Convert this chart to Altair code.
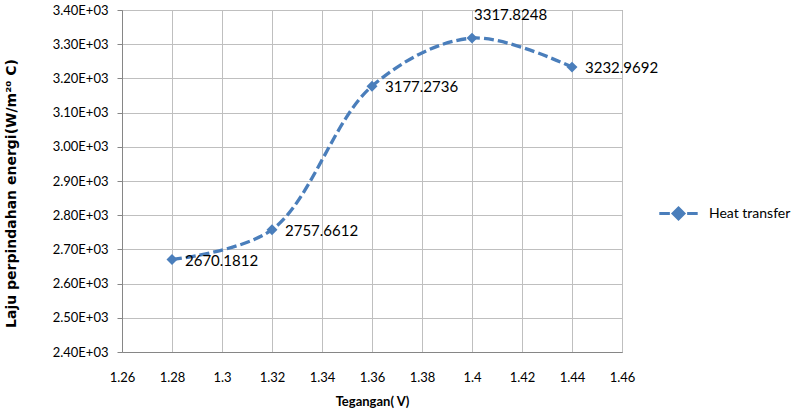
import altair as alt
import pandas as pd

voltage = [1.28, 1.32, 1.36, 1.40, 1.44]
heat = [2670.1812, 2757.6612, 3177.2736, 3317.8248, 3232.9692]
labels = ["2670.1812", "2757.6612", "3177.2736", "3317.8248", "3232.9692"]
series = ["Heat transfer"] * len(voltage)
x_ticks = [1.26, 1.28, 1.30, 1.32, 1.34, 1.36, 1.38, 1.40, 1.42, 1.44, 1.46]
y_ticks = [2400, 2500, 2600, 2700, 2800, 2900, 3000, 3100, 3200, 3300, 3400]

df = pd.DataFrame({"V": voltage, "Q": heat, "label": labels, "series": series})

FONT = "Lato"
BLUE = "#4A7EBB"

x_enc = alt.X("V:Q", scale=alt.Scale(domain=[1.26, 1.46], nice=False, zero=False),
              axis=alt.Axis(values=x_ticks, format=".2~f", title="Tegangan( V)",
                            titleFontWeight="bold", titleFontSize=13, titlePadding=11,
                            labelPadding=19, ticks=False, labelFontSize=13,
                            labelFont=FONT, titleFont=FONT, labelColor="#000",
                            titleColor="#000", domainColor="#868686",
                            gridColor="#BFBFBF", labelFlush=False,
                            labelOverlap=False))
y_enc = alt.Y("Q:Q", scale=alt.Scale(domain=[2400, 3400], nice=False, zero=False),
              axis=alt.Axis(values=y_ticks,
                            labelExpr="format(datum.value/1000,'.2f') + 'E+03'",
                            title="Laju perpindahan energi(W/m\u00b2\u2070 C)",
                            titleFontWeight="bold", titleFontSize=14,
                            titleX=-104, titleY=183, titleAngle=-90,
                            tickSize=5, tickColor="#868686", labelPadding=9,
                            labelFontSize=13, labelFont=FONT, titleFont="DejaVu Sans",
                            labelColor="#000", titleColor="#000",
                            domainColor="#868686", gridColor="#BFBFBF",
                            labelFlush=False, labelOverlap=False))

legend_symbol = "M -1.6 0 H -0.72 M 0.72 0 H 1.6 M 0 -0.45 L 0.45 0 L 0 0.45 L -0.45 0 Z"

base = alt.Chart(df).encode(x=x_enc, y=y_enc)

line = base.mark_line(interpolate="catmull-rom", strokeDash=[10, 4],
                      strokeWidth=3.3).encode(
    color=alt.Color("series:N", scale=alt.Scale(range=[BLUE]),
                    legend=alt.Legend(title=None, orient="none", legendX=543,
                                      legendY=190, symbolType=legend_symbol,
                                      symbolSize=576, symbolStrokeWidth=3,
                                      symbolFillColor=BLUE, symbolStrokeColor=BLUE,
                                      labelFontSize=14, labelFont=FONT,
                                      labelColor="#000", labelOffset=17)))

points = base.mark_point(shape="diamond", filled=True, size=120,
                         color=BLUE, opacity=1)

text_main = base.transform_filter("datum.V != 1.4").mark_text(
    align="left", baseline="middle", dx=13, dy=1, fontSize=15, font=FONT,
    color="#000").encode(text="label:N")

text_top = base.transform_filter("datum.V == 1.4").mark_text(
    align="left", baseline="middle", dx=2, dy=-23, fontSize=15, font=FONT,
    color="#000").encode(text="label:N")

chart = alt.layer(line, points, text_main, text_top).properties(
    width=500, height=342,
    autosize=alt.AutoSizeParams(type="none"),
    padding={"left": 122, "top": 10, "right": 182, "bottom": 62},
    background="white",
).configure_view(stroke="#868686")

chart.save("out.html", embed_options={"renderer": "svg", "actions": False})
